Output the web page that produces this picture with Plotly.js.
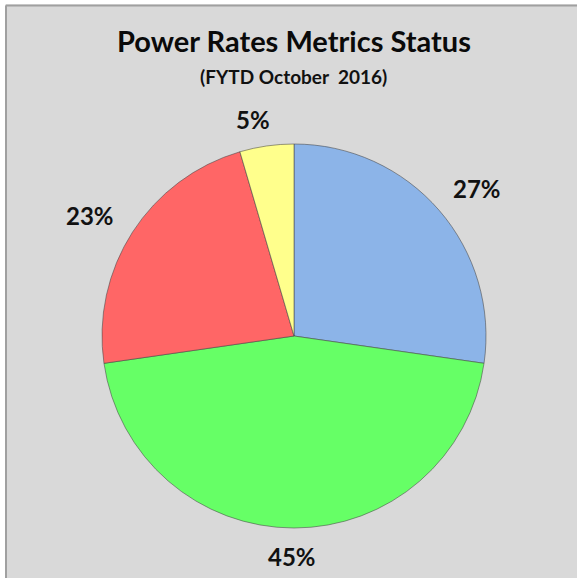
<!DOCTYPE html>
<html>
<head>
<meta charset="utf-8">
<script src="https://cdn.plot.ly/plotly-3.0.1.min.js"></script>
<style>html,body{margin:0;padding:0;background:#D9D9D9;overflow:hidden;}#chart{width:577px;height:578px;}</style>
</head>
<body>
<div id="chart"></div>
<script>
// Data (counts of metrics by status)
const categories = ["Blue", "Green", "Red", "Yellow"];
const counts = [6, 10, 5, 1];
const sliceColors = ["#8CB4E8", "#66FF66", "#FF6666", "#FFFF8C"];
const titleText = "Power Rates Metrics Status";
const subtitleText = "(FYTD October&nbsp; 2016)";

const W = 577, H = 578;
const cx = 294, cy = 336, r = 192;
const px = x => x / W;
const py = y => 1 - y / H;

const total = counts.reduce((a, b) => a + b, 0);
const pctText = counts.map(v => Math.round(v / total * 100) + "%");

const labelPos = [[477, 188], [292, 556], [90, 215], [253, 120]];

const trace = {
  type: "pie",
  labels: categories,
  values: counts,
  sort: false,
  direction: "clockwise",
  rotation: 0,
  textinfo: "none",
  hoverinfo: "label+percent",
  marker: { colors: sliceColors, line: { color: "rgba(70,70,70,0.55)", width: 1 } },
  domain: { x: [px(cx - r), px(cx + r)], y: [py(cy + r), py(cy - r)] },
  showlegend: false
};

const annotations = pctText.map((t, i) => ({
  text: t, x: px(labelPos[i][0]), y: py(labelPos[i][1]),
  xref: "paper", yref: "paper", xanchor: "center", yanchor: "middle",
  showarrow: false, font: { family: "Lato", size: 24, color: "#111111", weight: "bold" }
}));
annotations.push({
  text: subtitleText, x: px(293), y: py(77), xref: "paper", yref: "paper",
  xanchor: "center", yanchor: "middle", showarrow: false,
  font: { family: "Lato", size: 19, color: "#111111", weight: "bold" }
});

const layout = {
  width: W, height: H,
  margin: { l: 0, r: 0, t: 0, b: 0 },
  paper_bgcolor: "#D9D9D9",
  title: {
    text: titleText, x: px(294), xanchor: "center", y: py(42), yanchor: "middle",
    font: { family: "Lato", size: 29, color: "#0a0a0a", weight: "bold" }
  },
  shapes: [
    { type: "rect", xref: "paper", yref: "paper", layer: "below",
      x0: 0, x1: px(5), y0: 0, y1: 1, fillcolor: "#FFFFFF", line: { width: 0 } },
    { type: "rect", xref: "paper", yref: "paper", layer: "below",
      x0: 0, x1: 1, y0: py(4.5), y1: 1, fillcolor: "#FFFFFF", line: { width: 0 } },
    { type: "line", xref: "paper", yref: "paper", layer: "below",
      x0: px(6), x1: 1, y0: py(5.5), y1: py(5.5), line: { color: "#A0A0A0", width: 2 } },
    { type: "line", xref: "paper", yref: "paper", layer: "below",
      x0: px(6), x1: px(6), y0: 0, y1: py(5.5), line: { color: "#A0A0A0", width: 2 } }
  ],
  annotations: annotations
};

Plotly.newPlot("chart", [trace], layout, { displayModeBar: false, staticPlot: true });
</script>
</body>
</html>
